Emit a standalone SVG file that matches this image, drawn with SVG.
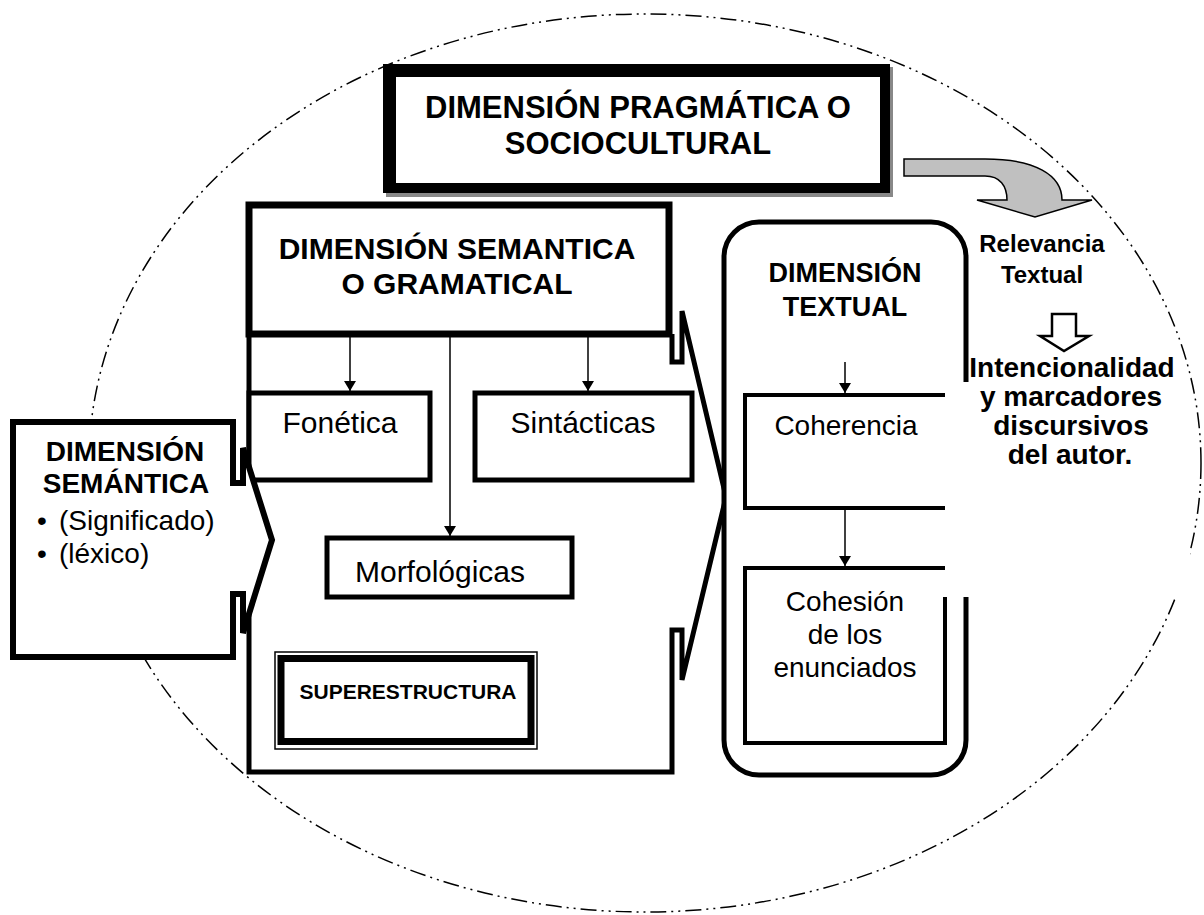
<svg xmlns="http://www.w3.org/2000/svg" width="1204" height="915" viewBox="0 0 1204 915">
<defs>
<style>
.b{font-family:"Liberation Sans",Arial,sans-serif;font-weight:bold;fill:#000;text-anchor:middle}
.r{font-family:"Liberation Sans",Arial,sans-serif;fill:#000;text-anchor:middle}
.k{fill:#fff;stroke:#000;stroke-linejoin:miter}
.ln{fill:none;stroke:#000}
.thin{stroke:#000;stroke-width:1.5;fill:none}
</style>
<marker id="ah" viewBox="0 0 10 12" refX="10" refY="6" markerWidth="10" markerHeight="12" markerUnits="userSpaceOnUse" orient="auto">
<path d="M0,0 L10,6 L0,12 Z" fill="#000"/>
</marker>
</defs>
<rect width="1204" height="915" fill="#fff"/>
<ellipse id="ellipse" cx="645" cy="463" rx="556" ry="449" fill="none" stroke="#000" stroke-width="1.5" stroke-dasharray="16 5 2 5 2 5"/>

<g id="pragmatica">
<rect x="386" y="67" width="507" height="130" fill="#888"/>
<rect x="383" y="64" width="507" height="129" fill="#000"/>
<rect x="396" y="77" width="484" height="106" fill="#fff"/>
<text class="b" x="638" y="118" font-size="31">DIMENSIÓN PRAGMÁTICA O</text>
<text class="b" x="638" y="154" font-size="31">SOCIOCULTURAL</text>
</g>

<g id="curved-arrow">
<path d="M904,159 L985,159 C1035,159 1062,175 1062,200 L1092,200 L1035,217 L977,200 L1007,200 C1007,186 1000,176 985,176 L904,176 Z" fill="#c0c0c0" stroke="#000" stroke-width="1.5" stroke-linejoin="miter"/>
</g>

<g id="relevancia">
<text class="b" x="1042" y="252" font-size="24">Relevancia</text>
<text class="b" x="1042" y="283" font-size="24">Textual</text>
</g>

<g id="intencionalidad">
<rect x="962" y="480" width="228" height="118" fill="#fff"/>
<path d="M1052,314 H1076 V336 H1089 L1064,351 L1040,336 H1052 Z" fill="#fff" stroke="#000" stroke-width="2.5"/>
<text class="b" x="1072" y="377" font-size="28">Intencionalidad</text>
<text class="b" x="1071" y="406" font-size="28">y marcadores</text>
<text class="b" x="1071" y="435" font-size="28">discursivos</text>
<text class="b" x="1070" y="464" font-size="28">del autor.</text>
</g>

<g id="semantica-gramatical">
<path class="k" stroke-width="5" d="M672,334 V362 H682 V311 L726,497 L682,680 V630 H672 V772 H249 V334"/>
<rect class="k" x="249" y="205" width="420" height="129" stroke-width="7"/>
<text class="b" x="457" y="259" font-size="30">DIMENSIÓN SEMANTICA</text>
<text class="b" x="457" y="294" font-size="30">O GRAMATICAL</text>
</g>

<g id="fonetica">
<rect class="k" x="249" y="393" width="181" height="87" stroke-width="5"/>
<text class="r" x="340" y="433" font-size="30">Fonética</text>
</g>

<g id="sintacticas">
<rect class="k" x="475" y="393" width="217" height="87" stroke-width="5"/>
<text class="r" x="583" y="433" font-size="30">Sintácticas</text>
</g>

<g id="morfologicas">
<rect class="k" x="327" y="538" width="245" height="59" stroke-width="5"/>
<text class="r" x="440" y="582" font-size="30">Morfológicas</text>
</g>

<g id="superestructura">
<rect x="275" y="652" width="262" height="97" fill="#fff" stroke="#000" stroke-width="1.5"/>
<rect x="281" y="658.5" width="250" height="83" fill="#fff" stroke="#000" stroke-width="7"/>
<text class="b" x="408" y="699" font-size="21">SUPERESTRUCTURA</text>
</g>

<g id="semantica">
<path class="k" stroke-width="6" d="M13,422 H233 V483 H243 V448 L272,540 L243,633 V594 H233 V657 H13 Z"/>
<text class="b" x="125" y="461" font-size="28">DIMENSIÓN</text>
<text class="b" x="126" y="493" font-size="28">SEMÁNTICA</text>
<text class="r" x="42" y="530" font-size="28">•</text>
<text class="r" x="59" y="530" font-size="28" style="text-anchor:start">(Significado)</text>
<text class="r" x="42" y="563" font-size="28">•</text>
<text class="r" x="59" y="563" font-size="28" style="text-anchor:start">(léxico)</text>
</g>

<g id="textual">
<path class="k" stroke-width="5" d="M966,382 V257 A35,35 0 0 0 931,222 H759 A35,35 0 0 0 724,257 V740 A35,35 0 0 0 759,775 H931 A35,35 0 0 0 966,740 V597"/>
<text class="b" x="845" y="282" font-size="27">DIMENSIÓN</text>
<text class="b" x="845" y="316" font-size="27">TEXTUAL</text>
</g>

<g id="coherencia">
<path class="ln" stroke-width="4" d="M945,395 H745 V508 H945"/>
<text class="r" x="846" y="435" font-size="28">Coherencia</text>
</g>

<g id="cohesion">
<path class="ln" stroke-width="4" d="M945,568 H745 V743 H945 V597"/>
<text class="r" x="845" y="611" font-size="28">Cohesión</text>
<text class="r" x="845" y="644" font-size="28">de los</text>
<text class="r" x="845" y="677" font-size="28">enunciados</text>
</g>

<g id="connectors">
<line class="thin" x1="350" y1="337" x2="350" y2="391" marker-end="url(#ah)"/>
<line class="thin" x1="450" y1="337" x2="450" y2="536" marker-end="url(#ah)"/>
<line class="thin" x1="588" y1="337" x2="588" y2="391" marker-end="url(#ah)"/>
<line class="thin" x1="845" y1="362" x2="845" y2="393" marker-end="url(#ah)"/>
<line class="thin" x1="845" y1="510" x2="845" y2="566" marker-end="url(#ah)"/>
</g>
</svg>
